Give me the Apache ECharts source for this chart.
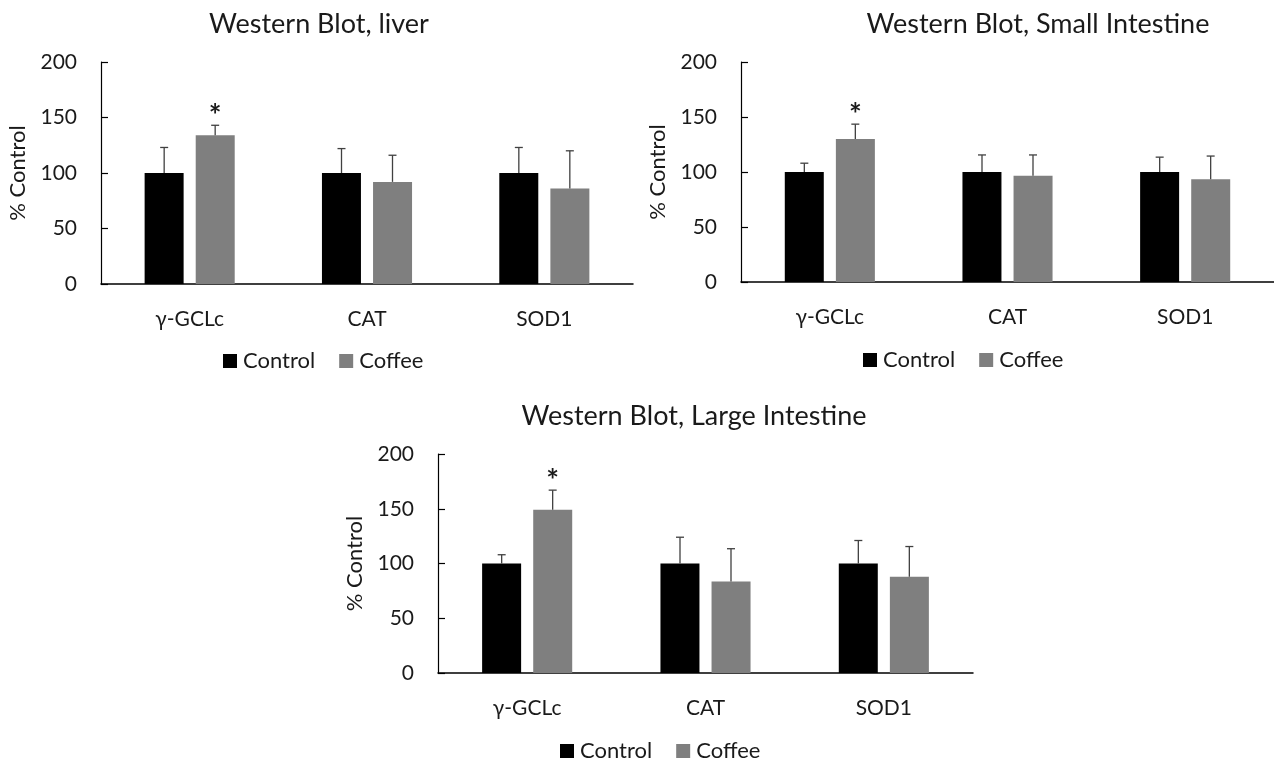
<!DOCTYPE html>
<html>
<head>
<meta charset="utf-8">
<script src="https://cdn.jsdelivr.net/npm/echarts@6/dist/echarts.min.js"></script>
<style>
html,body{margin:0;padding:0;background:#fff;}
#c{width:1274px;height:762px;}
</style>
</head>
<body>
<div id="c"></div>
<script>
// ---- data ----
const categories = ['γ-GCLc', 'CAT', 'SOD1'];
const seriesNames = ['Control', 'Coffee'];
const titles = ['Western Blot, liver', 'Western Blot, Small Intestine', 'Western Blot, Large Intestine'];
const yTicks = [0, 50, 100, 150, 200];

const liverControl = [100, 100, 100];
const liverControlErr = [23, 22, 23];
const liverCoffee = [134, 92, 86];
const liverCoffeeErr = [9, 24, 34];
const liverSig = [true, false, false];

const smallControl = [100, 100, 100];
const smallControlErr = [8, 15.5, 13.5];
const smallCoffee = [130, 96.5, 93.5];
const smallCoffeeErr = [13.5, 19, 21];
const smallSig = [true, false, false];

const largeControl = [100, 100, 100];
const largeControlErr = [8, 24, 21];
const largeCoffee = [149, 83.5, 88];
const largeCoffeeErr = [18, 30, 27.5];
const largeSig = [true, false, false];

// ---- layout / style ----
const FONT = 'Lato';
const TXT = '#1a1a1a';
const colors = ['#000000', '#7f7f7f'];
const BAR_W = 39;
const OFFSET = 25.5; // half of (bar width + gap)

const panels = [
  {ctrl: liverControl, ctrlErr: liverControlErr, cof: liverCoffee, cofErr: liverCoffeeErr, sig: liverSig,
   grid: {left: 101, top: 62, width: 532, height: 222},
   title: {x: 314, y: 22}, legend: {left: 218, top: 345}},
  {ctrl: smallControl, ctrlErr: smallControlErr, cof: smallCoffee, cofErr: smallCoffeeErr, sig: smallSig,
   grid: {left: 741, top: 62, width: 533, height: 220},
   title: {x: 1033, y: 22}, legend: {left: 858, top: 344}},
  {ctrl: largeControl, ctrlErr: largeControlErr, cof: largeCoffee, cofErr: largeCoffeeErr, sig: largeSig,
   grid: {left: 438, top: 454, width: 535, height: 219},
   title: {x: 689, y: 414}, legend: {left: 555, top: 735}}
];

function errSeries(gi, vals, errs, sig, off) {
  return {
    type: 'custom', xAxisIndex: gi, yAxisIndex: gi, z: 5, silent: true,
    data: vals.map((v, i) => [i, v, errs[i], sig ? (sig[i] ? 1 : 0) : 0]),
    renderItem: function (params, api) {
      const base = api.coord([api.value(0), api.value(1)]);
      const top = api.coord([api.value(0), api.value(1) + api.value(2)]);
      const x = base[0] + off;
      const children = [
        {type: 'line', shape: {x1: x, y1: base[1], x2: x, y2: top[1]}, style: {stroke: '#404040', lineWidth: 1.3}},
        {type: 'line', shape: {x1: x - 4, y1: top[1], x2: x + 4, y2: top[1]}, style: {stroke: '#404040', lineWidth: 1.3}}
      ];
      if (api.value(3) === 1) {
        children.push({type: 'text', style: {text: '*', x: x, y: top[1] - 9, align: 'center', verticalAlign: 'middle',
          font: 'bold 30px ' + FONT, fill: '#1a1a1a'}});
      }
      return {type: 'group', children: children};
    }
  };
}

const option = {
  animation: false,
  backgroundColor: '#ffffff',
  color: colors,
  title: panels.map((p, i) => ({
    text: titles[i], left: p.title.x, top: p.title.y - 16, textAlign: 'center',
    textStyle: {fontFamily: FONT, fontSize: 27, fontWeight: 'normal', color: TXT}
  })),
  legend: panels.map(p => ({
    data: seriesNames, left: p.legend.left, top: p.legend.top, orient: 'horizontal',
    icon: 'rect', itemWidth: 14, itemHeight: 14, itemGap: 24,
    textStyle: {fontFamily: FONT, fontSize: 22, color: TXT, padding: [0, 0, 0, 1]}
  })),
  grid: panels.map(p => Object.assign({containLabel: false}, p.grid)),
  xAxis: panels.map((p, i) => ({
    type: 'category', gridIndex: i, data: categories,
    axisLine: {lineStyle: {color: '#000', width: 1.5}},
    axisTick: {show: false},
    axisLabel: {fontFamily: FONT, fontSize: 21, color: TXT, margin: 25}
  })),
  yAxis: panels.map((p, i) => ({
    type: 'value', gridIndex: i, min: yTicks[0], max: yTicks[yTicks.length - 1], interval: yTicks[1] - yTicks[0],
    name: '% Control', nameLocation: 'middle', nameGap: 72,
    nameTextStyle: {fontFamily: FONT, fontSize: 22, color: TXT},
    axisLine: {show: true, lineStyle: {color: '#000', width: 1.2}},
    axisTick: {show: true, inside: true, length: 7, lineStyle: {color: '#000', width: 1.2}},
    splitLine: {show: false},
    axisLabel: {fontFamily: FONT, fontSize: 21, color: TXT, margin: 24}
  })),
  series: []
};

panels.forEach((p, i) => {
  option.series.push({name: seriesNames[0], type: 'bar', xAxisIndex: i, yAxisIndex: i, data: p.ctrl,
    barWidth: BAR_W, barGap: '31%', itemStyle: {color: colors[0]}});
  option.series.push({name: seriesNames[1], type: 'bar', xAxisIndex: i, yAxisIndex: i, data: p.cof,
    barWidth: BAR_W, barGap: '31%', itemStyle: {color: colors[1]}});
  option.series.push(errSeries(i, p.ctrl, p.ctrlErr, null, -OFFSET));
  option.series.push(errSeries(i, p.cof, p.cofErr, p.sig, OFFSET));
});

const chart = echarts.init(document.getElementById('c'), null, {renderer: 'canvas'});
chart.setOption(option);
</script>
</body>
</html>
